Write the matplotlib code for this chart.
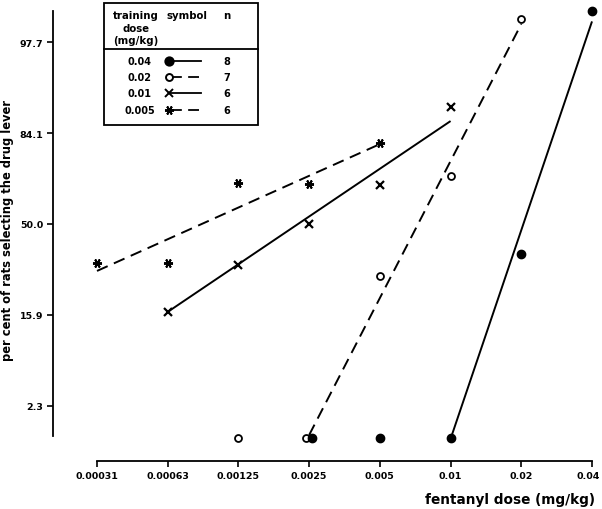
import math
import numpy as np
import matplotlib
matplotlib.use("Agg")
import matplotlib.pyplot as plt
from matplotlib.lines import Line2D
from matplotlib.patches import Rectangle
from matplotlib.transforms import ScaledTranslation

# ---------------- data ----------------
tick_doses = [0.0003125, 0.000625, 0.00125, 0.0025, 0.005, 0.01, 0.02, 0.04]
tick_labels = ["0.00031", "0.00063", "0.00125", "0.0025", "0.005", "0.01", "0.02", "0.04"]
y_ticks = [2.3, 15.9, 50.0, 84.1, 97.7]
y_tick_labels = ["2.3", "15.9", "50.0", "84.1", "97.7"]

# training dose 0.04 (filled circles, solid)
d004_x = [0.0025, 0.005, 0.01, 0.02, 0.04]
d004_y = [0.93, 0.93, 0.93, 37.1, 99.04]
d004_fit_x = [0.01, 0.04]
d004_fit_y = [0.91, 98.7]

# training dose 0.02 (open circles, dashed)
d002_x = [0.00125, 0.0025, 0.005, 0.01, 0.02]
d002_y = [0.93, 0.93, 28.4, 70.1, 98.8]
d002_fit_x = [0.0025, 0.02]
d002_fit_y = [1.02, 98.6]

# training dose 0.01 (x, solid)
d001_x = [0.000625, 0.00125, 0.0025, 0.005, 0.01]
d001_y = [16.7, 32.6, 50.0, 66.6, 90.1]
d001_fit_x = [0.000625, 0.01]
d001_fit_y = [16.7, 87.1]

# training dose 0.005 (asterisk, dashed)
d0005_x = [0.0003125, 0.000625, 0.00125, 0.0025, 0.005]
d0005_y = [33.4, 33.4, 67.4, 67.0, 81.3]
d0005_fit_x = [0.0003125, 0.005]
d0005_fit_y = [30.3, 81.0]

legend_doses = ["0.04", "0.02", "0.01", "0.005"]
legend_n = ["8", "7", "6", "6"]

# ---------------- probit scale ----------------
def _cdf_scalar(z):
    return 50.0 * (1.0 + math.erf(z / math.sqrt(2.0)))

def _ppf_scalar(p):
    p = min(max(p, 1e-9), 100 - 1e-9)
    lo, hi = -12.0, 12.0
    for _ in range(80):
        mid = 0.5 * (lo + hi)
        if _cdf_scalar(mid) < p:
            lo = mid
        else:
            hi = mid
    return 0.5 * (lo + hi)

_ppf_v = np.vectorize(_ppf_scalar, otypes=[float])
_cdf_v = np.vectorize(_cdf_scalar, otypes=[float])

def forward(p):
    return _ppf_v(np.asarray(p, dtype=float))

def inverse(z):
    return _cdf_v(np.asarray(z, dtype=float))

# ---------------- figure ----------------
plt.rcParams['font.family'] = ['DejaVu Sans']
plt.rcParams['font.weight'] = 'bold'
W, H = 602, 510
fig = plt.figure(figsize=(W / 100, H / 100), dpi=100)

def fx(x):
    return x / W

def fy(y):
    return 1 - y / H

ax_left, ax_right, ax_top, ax_bot = 53, 600, 12, 462
ax = fig.add_axes([fx(ax_left), fy(ax_bot), fx(ax_right - ax_left), (ax_bot - ax_top) / H])

ax.set_xscale('log', base=2)
ax.set_yscale('function', functions=(forward, inverse))

px_per_oct = (592 - 97) / 7.0
x0 = 0.0003125
ax.set_xlim(x0 * 2 ** (-(97 - ax_left) / px_per_oct), x0 * 2 ** ((ax_right - 97) / px_per_oct))
z_top = (225 - ax_top) / 91.0
z_bot = (225 - ax_bot) / 91.0
ax.set_ylim(_cdf_scalar(z_bot), _cdf_scalar(z_top))

for s in ['top', 'right']:
    ax.spines[s].set_visible(False)
ax.spines['left'].set_bounds(_cdf_scalar((225 - 437) / 91.0), _cdf_scalar(z_top))
ax.spines['bottom'].set_bounds(tick_doses[0], tick_doses[-1])
for s in ['left', 'bottom']:
    ax.spines[s].set_linewidth(1.3)

ax.set_xticks(tick_doses)
ax.set_xticklabels(tick_labels)
ax.xaxis.set_minor_locator(matplotlib.ticker.NullLocator())
ax.set_yticks(y_ticks)
ax.set_yticklabels(y_tick_labels)
ax.yaxis.set_minor_locator(matplotlib.ticker.NullLocator())
ax.tick_params(axis='both', direction='out', length=4, width=1.2, labelsize=6.8, pad=3)
for lab in ax.get_xticklabels() + ax.get_yticklabels():
    lab.set_fontweight('bold')
# keep the last x tick label inside the canvas
last_lab = ax.get_xticklabels()[-1]
last_lab.set_transform(last_lab.get_transform() + ScaledTranslation(-4 / 100.0, 0, fig.dpi_scale_trans))

lw = 1.4
dash = (0, (6, 3.5))

# fitted lines
ax.plot(d004_fit_x, d004_fit_y, color='black', lw=lw, solid_capstyle='butt')
ax.plot(d002_fit_x, d002_fit_y, color='black', lw=lw, linestyle=dash)
ax.plot(d001_fit_x, d001_fit_y, color='black', lw=lw, solid_capstyle='butt')
ax.plot(d0005_fit_x, d0005_fit_y, color='black', lw=lw, linestyle=dash)

# markers, with small nudges where points overlap
def nudge(dx_px):
    return ax.transData + ScaledTranslation(dx_px / 100.0, 0, fig.dpi_scale_trans)

for i, (x, y) in enumerate(zip(d002_x, d002_y)):
    tr = nudge(-3) if i == 1 else ax.transData
    ax.plot([x], [y], marker='o', ms=5, mfc='white', mec='black', mew=1.3,
            linestyle='none', transform=tr, clip_on=False, zorder=4)
for i, (x, y) in enumerate(zip(d004_x, d004_y)):
    tr = nudge(3) if i == 0 else ax.transData
    ax.plot([x], [y], marker='o', ms=6, mfc='black', mec='black',
            linestyle='none', transform=tr, clip_on=False, zorder=5)
ax.plot(d001_x, d001_y, marker='x', ms=5.5, mew=1.6, color='black',
        linestyle='none', clip_on=False, zorder=4)
ax.plot(d0005_x, d0005_y, marker=(6, 2, 90), ms=6.5, mew=1.4, color='black',
        linestyle='none', clip_on=False, zorder=4)

# axis labels
fig.text(fx(8), fy(231), "per cent of rats selecting the drug lever", rotation=90,
         ha='center', va='center', fontsize=8.3, fontweight='bold')
fig.text(fx(510), fy(500), "fentanyl dose (mg/kg)", ha='center', va='center',
         fontsize=9.8, fontweight='bold')

# ---------------- legend table ----------------
fig.add_artist(Rectangle((fx(104), fy(126)), fx(258 - 104), (126 - 4) / H,
                         transform=fig.transFigure, fill=False, lw=1.3, ec='black'))
fig.add_artist(Line2D([fx(104), fx(258)], [fy(50), fy(50)], transform=fig.transFigure,
                      color='black', lw=1.3))
hdr_fs = 7.3
fig.text(fx(136), fy(16), "training", ha='center', va='center', fontsize=hdr_fs, fontweight='bold')
fig.text(fx(136), fy(28.5), "dose", ha='center', va='center', fontsize=hdr_fs, fontweight='bold')
fig.text(fx(136), fy(41), "(mg/kg)", ha='center', va='center', fontsize=hdr_fs, fontweight='bold')
fig.text(fx(187), fy(16), "symbol", ha='center', va='center', fontsize=hdr_fs, fontweight='bold')
fig.text(fx(227), fy(16), "n", ha='center', va='center', fontsize=hdr_fs, fontweight='bold')

row_y = [62, 78, 94, 111]
styles = [
    dict(marker='o', ms=6, mfc='black', mec='black', ls='-'),
    dict(marker='o', ms=5, mfc='white', mec='black', ls=dash),
    dict(marker='x', ms=5.5, mfc='black', mec='black', ls='-'),
    dict(marker=(6, 2, 90), ms=6.5, mfc='black', mec='black', ls='--'),
]
for dose, n, yy, st in zip(legend_doses, legend_n, row_y, styles):
    fig.text(fx(140), fy(yy), dose, ha='center', va='center', fontsize=7, fontweight='bold')
    fig.text(fx(227), fy(yy), n, ha='center', va='center', fontsize=7, fontweight='bold')
    ls = st['ls'] if st['ls'] != '--' else dash
    fig.add_artist(Line2D([fx(171), fx(201)], [fy(yy), fy(yy)], transform=fig.transFigure,
                          color='black', lw=1.3, linestyle=ls))
    fig.add_artist(Line2D([fx(169)], [fy(yy)], transform=fig.transFigure, marker=st['marker'],
                          ms=st['ms'], mfc=st['mfc'], mec=st['mec'], mew=1.4, linestyle='none'))

fig.savefig("out.png", dpi=100)
